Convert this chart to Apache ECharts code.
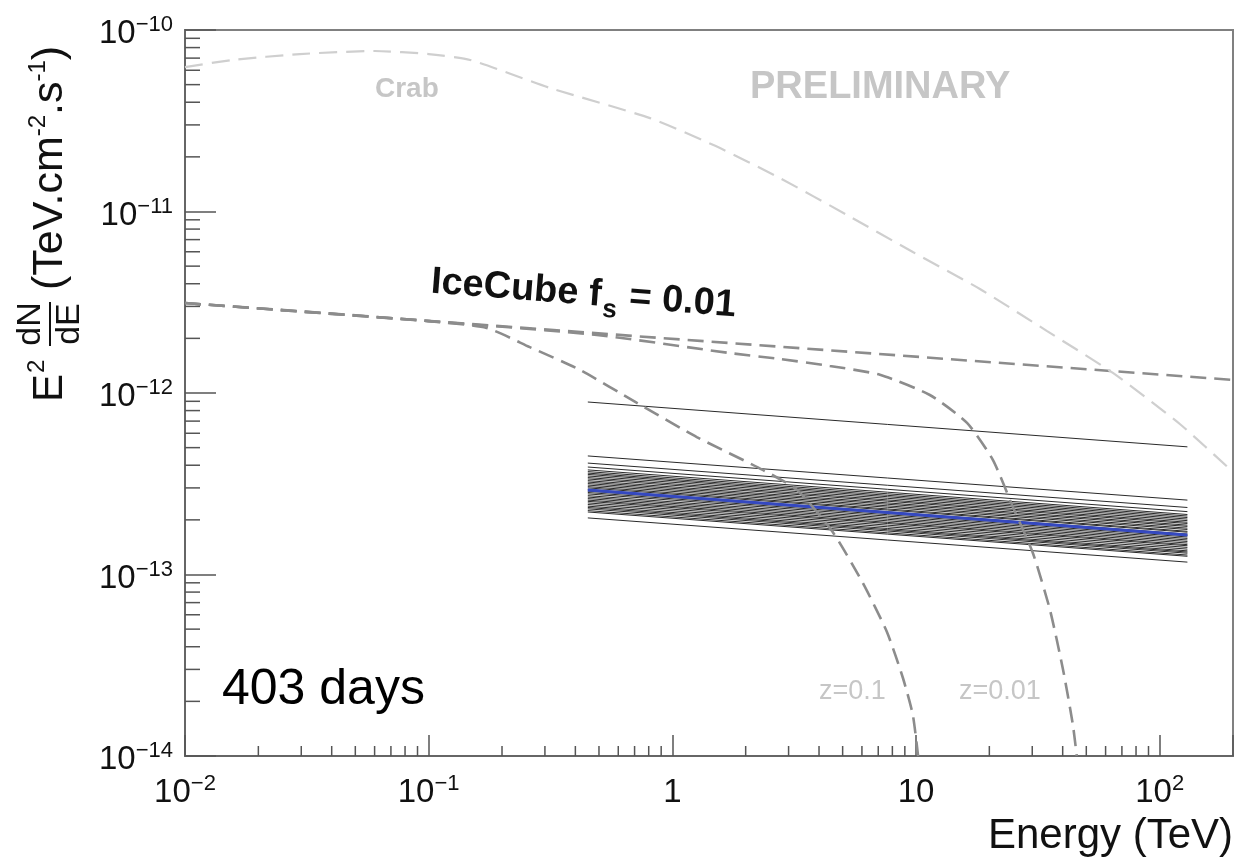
<!DOCTYPE html>
<html><head><meta charset="utf-8">
<script src="https://cdn.jsdelivr.net/npm/echarts@6/dist/echarts.min.js"></script>
<style>html,body{margin:0;padding:0;background:#fff}#c{width:1236px;height:862px}</style>
</head><body><div id="c"></div>
<script>
const FONT = '"Liberation Sans", Arial, Helvetica, sans-serif';

// ---- axis ticks ----
const xTickValues = [0.01, 0.1, 1, 10, 100];
const xTickLabels = ['10^−2', '10^−1', '1', '10', '10^2'];
const yTickValues = [1e-14, 1e-13, 1e-12, 1e-11, 1e-10];
const yTickLabels = ['10^−14', '10^−13', '10^−12', '10^−11', '10^−10'];
const minorMultipliers = [2, 3, 4, 5, 6, 7, 8, 9];

// ---- IceCube diffuse flux, f_s = 0.01 (no absorption) ----
const iceCubeE = [0.01, 200];
const iceCubeF = [3.13e-12, 1.18e-12];

// ---- with EBL absorption, z = 0.1 ----
const eblZ01E = [0.01, 0.0296, 0.1, 0.173, 0.26, 0.418, 0.716, 1.26, 2.35, 3.25, 4.56, 6.05, 7.60, 8.84, 9.71, 10.2];
const eblZ01F = [3.13e-12, 2.82e-12, 2.49e-12, 2.28e-12, 1.79e-12, 1.34e-12, 8.81e-13, 5.72e-13, 3.77e-13, 2.92e-13, 1.71e-13, 8.98e-14, 4.82e-14, 2.69e-14, 1.68e-14, 1.0e-14];

// ---- with EBL absorption, z = 0.01 ----
const eblZ001E = [0.01, 0.1, 0.49, 1.72, 2.76, 4.43, 7.11, 11.4, 16.2, 20.7, 25.0, 30.2, 35.4, 40.1, 44.0, 45.7];
const eblZ001F = [3.13e-12, 2.49e-12, 2.09e-12, 1.66e-12, 1.54e-12, 1.41e-12, 1.26e-12, 9.75e-13, 6.84e-13, 4.27e-13, 2.35e-13, 1.31e-13, 6.45e-14, 3.01e-14, 1.50e-14, 1.0e-14];

// ---- Crab spectrum ----
const crabE = [0.01, 0.0157, 0.0296, 0.0602, 0.1, 0.148, 0.315, 0.81, 1.5, 2.76, 5.21, 9.71, 18.3, 34.4, 64.3, 121, 200];
const crabF = [6.25e-11, 6.84e-11, 7.37e-11, 7.66e-11, 7.37e-11, 6.84e-11, 4.79e-11, 3.27e-11, 2.30e-11, 1.53e-11, 9.57e-12, 5.98e-12, 3.74e-12, 2.20e-12, 1.29e-12, 6.75e-13, 3.67e-13];

// ---- sensitivity power laws (403 days) ----
const plE = [0.45, 130];
const plStartF = [8.92e-13, 4.50e-13, 4.11e-13, 3.91e-13,
  3.77e-13, 3.69e-13, 3.62e-13, 3.56e-13, 3.49e-13, 3.42e-13, 3.36e-13, 3.29e-13, 3.23e-13, 3.17e-13,
  3.11e-13, 3.05e-13, 3.00e-13, 2.94e-13, 2.88e-13, 2.83e-13, 2.78e-13, 2.72e-13, 2.67e-13, 2.62e-13,
  2.57e-13, 2.53e-13, 2.48e-13, 2.43e-13, 2.38e-13, 2.34e-13, 2.30e-13, 2.25e-13, 2.21e-13, 2.05e-13];
const plEndF = [5.05e-13, 2.57e-13, 2.34e-13, 2.22e-13,
  2.14e-13, 2.10e-13, 2.06e-13, 2.02e-13, 1.98e-13, 1.94e-13, 1.91e-13, 1.87e-13, 1.84e-13, 1.80e-13,
  1.77e-13, 1.73e-13, 1.71e-13, 1.67e-13, 1.64e-13, 1.61e-13, 1.58e-13, 1.55e-13, 1.52e-13, 1.49e-13,
  1.46e-13, 1.44e-13, 1.41e-13, 1.38e-13, 1.35e-13, 1.33e-13, 1.31e-13, 1.28e-13, 1.26e-13, 1.17e-13];
const bestStartF = 2.92e-13;
const bestEndF = 1.65e-13;

// ---------------------------------------------------------------
const X_MIN = 0.01, X_MAX = 200, Y_MIN = 1e-14, Y_MAX = 1e-10;

function richLabel(l) {
  const p = l.split('^');
  return p.length > 1 ? '{b|' + p[0] + '}{e|' + p[1] + '}' : '{b|' + p[0] + '}';
}
function makeFormatter(vals, labs) {
  return function (v) {
    for (let i = 0; i < vals.length; i++) {
      if (Math.abs(Math.log10(v) - Math.log10(vals[i])) < 1e-6) return richLabel(labs[i]);
    }
    return '';
  };
}
const labelRich = {
  b: { fontSize: 33, fontFamily: FONT, color: '#111', lineHeight: 40 },
  e: { fontSize: 22, fontFamily: FONT, color: '#111', lineHeight: 24, verticalAlign: 'top' }
};

function zip(a, b) { return a.map((v, i) => [v, b[i]]); }

const minorX = [];
for (let k = -2; k <= 2; k++) for (const m of minorMultipliers) { const v = m * Math.pow(10, k); if (v < X_MAX * 0.999) minorX.push(v); }
const minorY = [];
for (let k = -14; k <= -11; k++) for (const m of minorMultipliers) minorY.push(m * Math.pow(10, k));

const series = [];
// minor ticks (axis decoration)
series.push({
  type: 'custom', silent: true, z: 5,
  data: minorX.map(v => [v, Y_MIN]),
  renderItem: function (params, api) {
    const p = api.coord([api.value(0), api.value(1)]);
    return { type: 'line', shape: { x1: p[0], y1: p[1], x2: p[0], y2: p[1] - 10 }, style: { stroke: '#555', lineWidth: 1.5 } };
  }
});
series.push({
  type: 'custom', silent: true, z: 5,
  data: minorY.map(v => [X_MIN, v]),
  renderItem: function (params, api) {
    const p = api.coord([api.value(0), api.value(1)]);
    return { type: 'line', shape: { x1: p[0], y1: p[1], x2: p[0] + 15, y2: p[1] }, style: { stroke: '#555', lineWidth: 1.5 } };
  }
});

// power-law sensitivity lines
for (let i = 0; i < plStartF.length; i++) {
  series.push({
    type: 'line', silent: true, symbol: 'none', animation: false, z: 2,
    data: [[plE[0], plStartF[i]], [plE[1], plEndF[i]]],
    lineStyle: { color: '#2a2a2a', width: 1 }
  });
}
series.push({
  type: 'line', silent: true, symbol: 'none', z: 3,
  data: [[plE[0], bestStartF], [plE[1], bestEndF]],
  lineStyle: { color: '#3448c0', width: 3 }
});

const dashDark = { color: '#8c8c8c', width: 2.6, type: [16, 8] };
series.push({ type: 'line', silent: true, symbol: 'none', z: 4, data: zip(iceCubeE, iceCubeF), lineStyle: dashDark });
series.push({ type: 'line', silent: true, symbol: 'none', z: 4, data: zip(eblZ01E, eblZ01F), lineStyle: dashDark, smooth: 0.2 });
series.push({ type: 'line', silent: true, symbol: 'none', z: 4, data: zip(eblZ001E, eblZ001F), lineStyle: dashDark, smooth: 0.2 });
series.push({ type: 'line', silent: true, symbol: 'none', z: 4, data: zip(crabE, crabF), lineStyle: { color: '#cfcfcf', width: 2.2, type: [18, 9] }, smooth: 0.2 });

const grey = '#c6c6c6';
const graphic = [
  // y-axis title (rotated)
  {
    type: 'group', x: 50, y: 402, rotation: Math.PI / 2, silent: true,
    children: [
      { type: 'text', x: 0, y: 0, style: { text: 'E', font: '42px ' + FONT, fill: '#111', align: 'left', verticalAlign: 'middle', textAlign: 'left', textVerticalAlign: 'middle' } },
      { type: 'text', x: 29, y: -13, style: { text: '2', font: '24px ' + FONT, fill: '#111', align: 'left', verticalAlign: 'middle', textAlign: 'left', textVerticalAlign: 'middle' } },
      { type: 'text', x: 78, y: -19, style: { text: 'dN', font: '34px ' + FONT, fill: '#111', align: 'center', verticalAlign: 'middle', textAlign: 'center', textVerticalAlign: 'middle' } },
      { type: 'line', shape: { x1: 56, y1: 0, x2: 100, y2: 0 }, style: { stroke: '#111', lineWidth: 2 } },
      { type: 'text', x: 78, y: 20, style: { text: 'dE', font: '34px ' + FONT, fill: '#111', align: 'center', verticalAlign: 'middle', textAlign: 'center', textVerticalAlign: 'middle' } },
      { type: 'text', x: 112, y: 0, style: {
          text: '{n|(TeV.cm}{s|-2}{n|.s}{s|-1}{n|)}', align: 'left', verticalAlign: 'middle', textAlign: 'left', textVerticalAlign: 'middle',
          rich: { n: { fontSize: 43, fontFamily: FONT, fill: '#111', color: '#111', lineHeight: 48 },
                  s: { fontSize: 24, fontFamily: FONT, fill: '#111', color: '#111', lineHeight: 26, verticalAlign: 'top' } } } }
    ]
  },
  // x-axis title
  { type: 'text', x: 1233, y: 836, silent: true, style: { text: 'Energy (TeV)', font: '42px ' + FONT, fill: '#111', align: 'right', verticalAlign: 'middle', textAlign: 'right', textVerticalAlign: 'middle' } },
  // annotations
  { type: 'text', x: 375, y: 89, silent: true, style: { text: 'Crab', font: 'bold 28px ' + FONT, fill: grey, align: 'left', verticalAlign: 'middle', textAlign: 'left', textVerticalAlign: 'middle' } },
  { type: 'text', x: 750, y: 88, silent: true, style: { text: 'PRELIMINARY', font: 'bold 38px ' + FONT, fill: grey, align: 'left', verticalAlign: 'middle', textAlign: 'left', textVerticalAlign: 'middle' } },
  { type: 'text', x: 819, y: 692, silent: true, style: { text: 'z=0.1', font: '27px ' + FONT, fill: grey, align: 'left', verticalAlign: 'middle', textAlign: 'left', textVerticalAlign: 'middle' } },
  { type: 'text', x: 959, y: 692, silent: true, style: { text: 'z=0.01', font: '27px ' + FONT, fill: grey, align: 'left', verticalAlign: 'middle', textAlign: 'left', textVerticalAlign: 'middle' } },
  { type: 'text', x: 222, y: 690, silent: true, style: { text: '403 days', font: '50px ' + FONT, fill: '#000', align: 'left', verticalAlign: 'middle', textAlign: 'left', textVerticalAlign: 'middle' } },
  {
    type: 'group', x: 430, y: 295, rotation: -0.078, silent: true,
    children: [
      { type: 'text', x: 0, y: -13, style: { text: 'IceCube f', font: 'bold 38px ' + FONT, fill: '#111', align: 'left', verticalAlign: 'middle', textAlign: 'left', textVerticalAlign: 'middle' } },
      { type: 'text', x: 173, y: 1, style: { text: 's', font: 'bold 26px ' + FONT, fill: '#111', align: 'left', verticalAlign: 'middle', textAlign: 'left', textVerticalAlign: 'middle' } },
      { type: 'text', x: 199, y: -13, style: { text: '= 0.01', font: 'bold 38px ' + FONT, fill: '#111', align: 'left', verticalAlign: 'middle', textAlign: 'left', textVerticalAlign: 'middle' } }
    ]
  }
];

const chart = echarts.init(document.getElementById('c'), null, { renderer: 'canvas' });
chart.setOption({
  animation: false,
  backgroundColor: '#fff',
  grid: { left: 185, right: 3, top: 30, bottom: 106, show: true, borderColor: '#808080', borderWidth: 2, backgroundColor: 'transparent' },
  xAxis: {
    type: 'log', logBase: 10, min: X_MIN, max: X_MAX,
    axisLine: { show: true, lineStyle: { color: '#666', width: 2 } },
    axisTick: { show: true, inside: true, length: 21, lineStyle: { color: '#555', width: 1.5 } },
    splitLine: { show: false },
    axisLabel: { margin: 17, formatter: makeFormatter(xTickValues, xTickLabels), rich: labelRich, showMaxLabel: true, hideOverlap: false }
  },
  yAxis: {
    type: 'log', logBase: 10, min: Y_MIN, max: Y_MAX,
    axisLine: { show: true, lineStyle: { color: '#666', width: 2 } },
    axisTick: { show: true, inside: true, length: 31, lineStyle: { color: '#555', width: 1.5 } },
    splitLine: { show: false },
    axisLabel: { margin: 12, padding: [8, 0, 0, 0], formatter: makeFormatter(yTickValues, yTickLabels), rich: labelRich }
  },
  series: series,
  graphic: graphic
});
</script>
</body></html>
